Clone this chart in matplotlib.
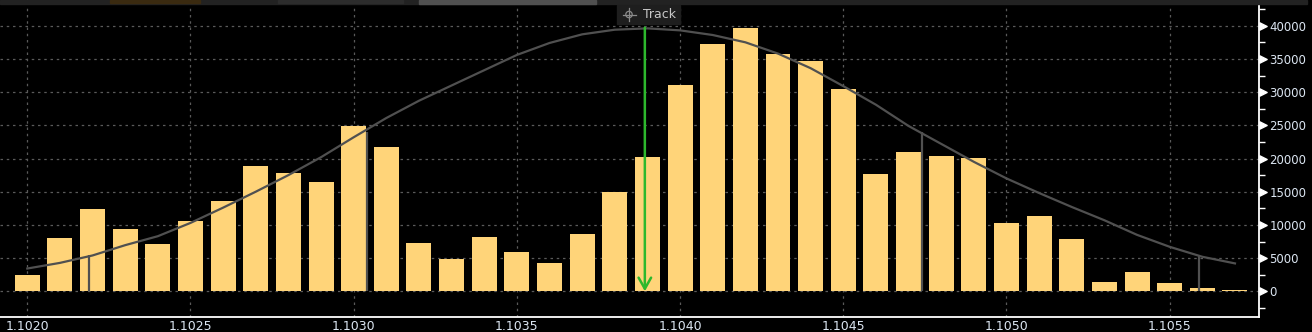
import numpy as np
import matplotlib.pyplot as plt
from matplotlib.patches import Rectangle, Circle

# price bins (0.0001 steps) and traded volume in each bin
bin_centers = np.round(np.arange(1.1020, 1.10575, 0.0001), 4)
volumes = [2400, 8000, 12400, 9400, 7100, 10600, 13600, 18900, 17800, 16500,
           24900, 21700, 7300, 4900, 8200, 5900, 4200, 8600, 15000, 20200,
           31000, 37200, 39600, 35800, 34700, 30500, 17700, 21000, 20400, 20100,
           10300, 11300, 7900, 1400, 2900, 1200, 500, 150]

curve = [3430, 4280, 5400, 6950, 8300, 10300, 12600, 15000, 17500, 20200,
         23200, 26100, 28700, 31000, 33300, 35600, 37400, 38700, 39400, 39600,
         39300, 38600, 37500, 35800, 33600, 30900, 28100, 24900, 22200, 19500,
         17000, 14800, 12700, 10700, 8500, 6700, 5200, 4200]

# +/-1 and +/-2 sigma markers
sigma_x = [1.10219, 1.10304, 1.10474, 1.10559]
sigma_y = [5440, 24050, 24050, 5290]

track_x = 1.103892
track_top = 39700

x_ticks = [1.1020, 1.1025, 1.1030, 1.1035, 1.1040, 1.1045, 1.1050, 1.1055]
y_ticks = [0, 5000, 10000, 15000, 20000, 25000, 30000, 35000, 40000]

W, H = 1312, 332
fig = plt.figure(figsize=(W / 100, H / 100), dpi=100, facecolor='black')
ax = fig.add_axes([0, (H - 317) / H, 1259 / W, (317 - 4) / H])
ax.set_facecolor('black')

ax.bar(bin_centers, volumes, width=0.0000765, color='#FFD479', zorder=2)
ax.plot(bin_centers, curve, color='#505050', lw=1.6, zorder=3)
ax.vlines(sigma_x, 0, sigma_y, color='#505050', lw=1.6, zorder=3)

ax.annotate('', xy=(track_x, 0), xytext=(track_x, track_top),
            arrowprops=dict(arrowstyle='->,head_length=0.8,head_width=0.45',
                            color='#2DB82D', lw=1.8, shrinkA=0, shrinkB=0),
            zorder=4)

ax.set_xlim(1.1019164, 1.1057736)
ax.set_ylim(-3870, 43270)

ax.set_xticks(x_ticks)
ax.set_xticklabels([f'{v:.4f}' for v in x_ticks])
ax.set_yticks(y_ticks)
ax.set_yticks(np.arange(-2500, 43000, 5000), minor=True)
ax.yaxis.tick_right()
ax.tick_params(axis='y', which='major', length=0, pad=7.5, labelsize=8.5,
               labelcolor='#DCE6F2')
ax.tick_params(axis='y', which='minor', length=4, width=1, color='white',
               direction='out')
ax.tick_params(axis='x', length=0, pad=2.5, labelsize=9, labelcolor='#DCE6F2')

ax.grid(True, which='major', color='#5a5a5a', linestyle=(0, (2, 3)), lw=0.9)
ax.set_axisbelow(True)

for side in ['left', 'top']:
    ax.spines[side].set_visible(False)
ax.spines['right'].set_color('white')
ax.spines['right'].set_linewidth(1.3)
ax.spines['bottom'].set_color('white')
ax.spines['bottom'].set_linewidth(1.3)

# triangle markers on the price axis
ax.scatter([1.0035] * len(y_ticks), y_ticks, marker='>', s=28, color='white',
           transform=ax.get_yaxis_transform(), clip_on=False, zorder=5)

# overlay in pixel coordinates for the UI bits
ov = fig.add_axes([0, 0, 1, 1], facecolor='none')
ov.set_xlim(0, W)
ov.set_ylim(H, 0)
ov.axis('off')
ov.add_patch(Rectangle((0, 0), 1307, 3.5, color='#222222'))
ov.add_patch(Rectangle((110, 0), 90, 2.5, color='#3a2a10'))
ov.add_patch(Rectangle((278, 0), 125, 2.5, color='#2c2c2c'))
ov.add_patch(Rectangle((419, 0), 177, 3.5, color='#505050'))
ov.add_patch(Rectangle((617, 5), 63, 19, color='#1e1e1e'))
ov.add_patch(Circle((629, 14.5), 3.2, fill=False, ec='#8a8a8a', lw=0.9))
ov.plot([622.5, 635.5], [14.5, 14.5], color='#8a8a8a', lw=0.9)
ov.plot([629, 629], [8, 21], color='#8a8a8a', lw=0.9)
ov.text(643, 14.5, 'Track', color='#C8C8C8', fontsize=9, va='center', ha='left')

fig.savefig('out.png', dpi=100, facecolor='black')
